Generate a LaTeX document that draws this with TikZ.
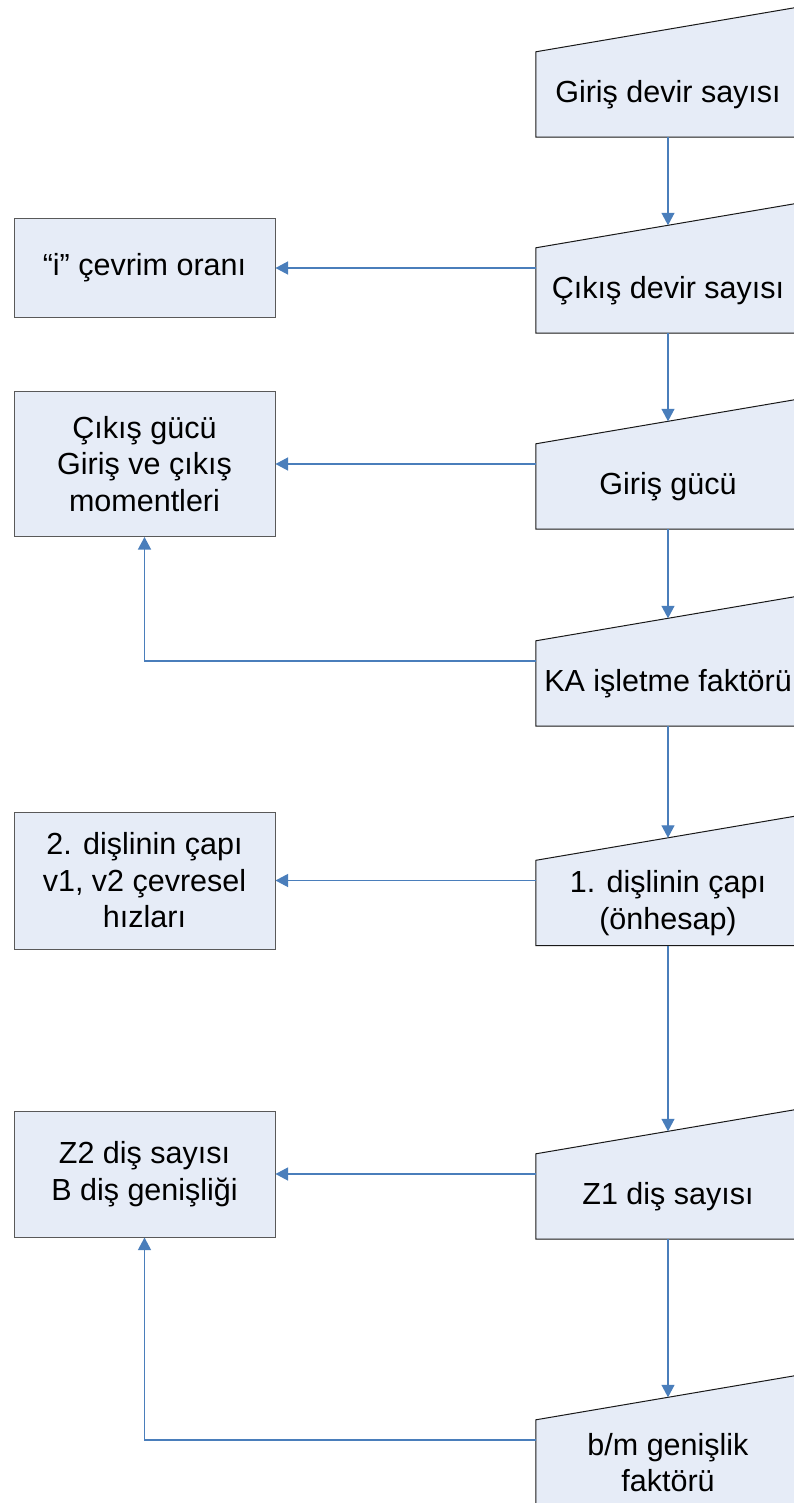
\documentclass[tikz,border=0pt]{standalone}
\usepackage{fontspec}
\setmainfont{Liberation Sans}
\usetikzlibrary{arrows.meta,backgrounds}
\definecolor{boxfill}{HTML}{E6ECF7}
\definecolor{linkblue}{HTML}{4A7EBB}
\definecolor{boxedge}{HTML}{595959}
\begin{document}
\begin{tikzpicture}[x=1pt,y=-1pt,
  txt/.style={font=\fontsize{30.5}{36.5}\selectfont, align=center, inner sep=0pt},
  manual/.style={txt, minimum width=264pt, minimum height=85pt},
  manualedge/.style={fill=boxfill, draw=black!90, line width=1pt, line join=miter},
  sidebox/.style={txt, draw=boxedge, fill=boxfill, line width=1pt, minimum width=261pt},
  conn/.style={draw=linkblue, line width=1.2pt, -{Triangle[length=12.5pt,width=13pt]}}]
\useasboundingbox (0,0) rectangle (793,1503);
\clip (0,0) rectangle (793,1503);

% manual-input steps (text sits in the rectangular part)
\node[manual] (m1) at (668,94.5)   {Giriş devir sayısı};
\node[manual] (m2) at (668,290.5)  {Çıkış devir sayısı};
\node[manual] (m3) at (668,486.5)  {Giriş gücü};
\node[manual] (m4) at (668,683.5)  {KA işletme faktörü};
\node[manual] (m5) at (668,903)    {1. dişlinin çapı\\(önhesap)};
\node[manual] (m6) at (668,1196.5) {Z1 diş sayısı};
\node[manual] (m7) at (668,1462.5) {b/m genişlik\\faktörü};

% slanted-top outlines behind the texts
\begin{scope}[on background layer]
  \foreach \n in {m1,m2,m3,m4,m5,m6,m7} {
    \path[manualedge] (\n.south west) -- (\n.north west)
      -- ([yshift=45pt]\n.north east) -- (\n.south east) -- cycle;
  }
\end{scope}

% results
\node[sidebox, minimum height=99pt]  (b1) at (144.5,268)   {“i” çevrim oranı};
\node[sidebox, minimum height=145pt] (b2) at (144.5,464)   {Çıkış gücü\\Giriş ve çıkış\\momentleri};
\node[sidebox, minimum height=137pt] (b3) at (144.5,880.5) {2. dişlinin çapı\\v1, v2 çevresel\\hızları};
\node[sidebox, minimum height=126pt] (b4) at (144.5,1174)  {Z2 diş sayısı\\B diş genişliği};

% main flow
\draw[conn] (m1.south) -- ([yshift=22.5pt]m2.north);
\draw[conn] (m2.south) -- ([yshift=22.5pt]m3.north);
\draw[conn] (m3.south) -- ([yshift=22.5pt]m4.north);
\draw[conn] (m4.south) -- ([yshift=22.5pt]m5.north);
\draw[conn] (m5.south) -- ([yshift=22.5pt]m6.north);
\draw[conn] (m6.south) -- ([yshift=22.5pt]m7.north);

% side outputs
\draw[conn] ([yshift=22.5pt]m2.west) -- (b1.east);
\draw[conn] ([yshift=22.5pt]m3.west) -- (b2.east);
\draw[conn] ([yshift=22.5pt]m4.west) -| (b2.south);
\draw[conn] ([yshift=22.5pt]m5.west) -- (b3.east);
\draw[conn] ([yshift=22.5pt]m6.west) -- (b4.east);
\draw[conn] ([yshift=22.5pt]m7.west) -| (b4.south);
\end{tikzpicture}
\end{document}
